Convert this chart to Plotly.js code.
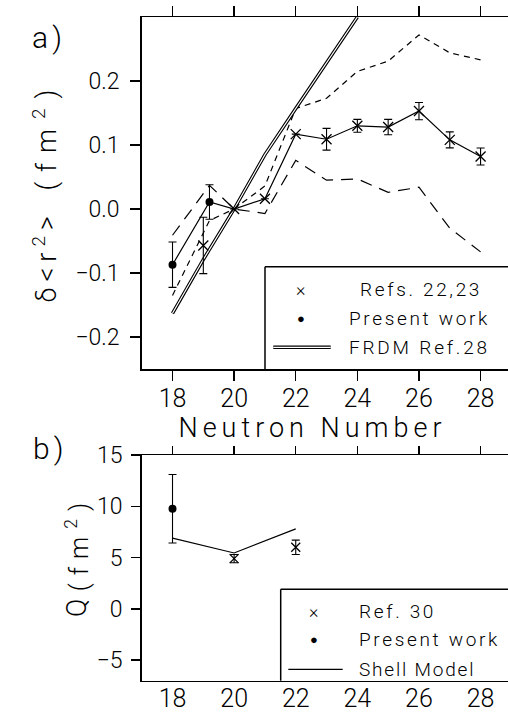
<!DOCTYPE html>
<html><head><meta charset="utf-8">
<script src="https://cdn.plot.ly/plotly-3.0.1.min.js"></script>
<style>
html,body{margin:0;padding:0;background:#fff;}
#chart{width:508px;height:712px;}
.annotation-text{letter-spacing:0.14em;}
g.annotation[data-index="2"] text{letter-spacing:5px;}
g.annotation[data-index="3"] text{letter-spacing:10px;}
g.annotation[data-index="4"] text{letter-spacing:6px;}
g.annotation[data-index="5"] text{letter-spacing:8px;}
g.annotation[data-index="11"] text{letter-spacing:2.8px;}
g.annotation[data-index="16"] text{letter-spacing:1.8px;}
</style>
</head><body><div id="chart"></div>
<script>
// ---------- panel a : delta <r^2> ----------
const refsN    = [19, 20, 21, 22, 23, 24, 25, 26, 27, 28];
const refsDr2  = [-0.057, 0, 0.016, 0.117, 0.109, 0.130, 0.128, 0.153, 0.108, 0.082];
const refsErr  = [0.044, null, null, null, 0.017, 0.010, 0.012, 0.0135, 0.0125, 0.0133];
const presentN   = [18, 19.2];
const presentDr2 = [-0.087, 0.011];
const presentErr = [0.0355, 0.027];
const bandN     = [18, 19.2, 20, 21, 22, 23, 24, 25, 26, 27, 28];
const bandLong  = [-0.041, 0.037, 0, -0.007, 0.076, 0.045, 0.047, 0.026, 0.034, -0.030, -0.067];
const bandShort = [-0.135, -0.018, 0, 0.036, 0.157, 0.173, 0.215, 0.231, 0.272, 0.244, 0.233];
const frdmN   = [18, 19, 20, 21, 22, 23, 24];
const frdmDr2 = [-0.163, -0.079, 0, 0.085, 0.157, 0.229, 0.300];
// ---------- panel b : Q ----------
const qRefN = [20, 22];
const qRef = [4.9, 6.0];
const qRefErr = [0.4, 0.7];
const qPresentN = [18];
const qPresent = [9.76];
const qPresentErr = [3.34];
const shellN = [18, 20, 22];
const shellQ = [6.9, 5.45, 7.8];
// ---------- ticks ----------
const xTicks = [18, 20, 22, 24, 26, 28];
const yTicksA = [-0.2, -0.1, 0.0, 0.1, 0.2];
const yTicksB = [-5, 0, 5, 10, 15];

// solid line through present work then references from N=20 on
const lineN = presentN.concat(refsN.filter(n => n >= 20));
const lineV = presentDr2.concat(refsDr2.filter((v, i) => refsN[i] >= 20));

const W = 508, H = 712;
const px = v => v / W;
const py = v => 1 - v / H;
const K = 'black';
const FONT = 'Roboto, DejaVu Sans, sans-serif';

const traces = [
  {x: bandN, y: bandLong, mode: 'lines', line: {color: K, width: 1.2, dash: '12px,8px'}, xaxis: 'x', yaxis: 'y', hoverinfo: 'skip'},
  {x: bandN, y: bandShort, mode: 'lines', line: {color: K, width: 1.2, dash: '6px,5px'}, xaxis: 'x', yaxis: 'y', hoverinfo: 'skip'},
  {x: frdmN, y: frdmDr2, mode: 'lines', line: {color: K, width: 3.4}, xaxis: 'x', yaxis: 'y'},
  {x: frdmN, y: frdmDr2, mode: 'lines', line: {color: 'white', width: 1.2}, xaxis: 'x', yaxis: 'y', hoverinfo: 'skip'},
  {x: lineN, y: lineV, mode: 'lines', line: {color: K, width: 1.2}, xaxis: 'x', yaxis: 'y', hoverinfo: 'skip'},
  {x: refsN, y: refsDr2, mode: 'markers', marker: {symbol: 'x-thin-open', size: 10, color: K, line: {color: K, width: 1.3}},
   error_y: {type: 'data', array: refsErr, color: K, thickness: 1.1, width: 4}, xaxis: 'x', yaxis: 'y'},
  {x: presentN, y: presentDr2, mode: 'markers', marker: {symbol: 'circle', size: 8, color: K},
   error_y: {type: 'data', array: presentErr, color: K, thickness: 1.1, width: 4}, xaxis: 'x', yaxis: 'y'},
  // panel b
  {x: shellN, y: shellQ, mode: 'lines', line: {color: K, width: 1.2}, xaxis: 'x3', yaxis: 'y2'},
  {x: qRefN, y: qRef, mode: 'markers', marker: {symbol: 'x-thin-open', size: 9, color: K, line: {color: K, width: 1.3}},
   error_y: {type: 'data', array: qRefErr, color: K, thickness: 1.1, width: 4}, xaxis: 'x2', yaxis: 'y2'},
  {x: qPresentN, y: qPresent, mode: 'markers', marker: {symbol: 'circle', size: 8, color: K},
   error_y: {type: 'data', array: qPresentErr, color: K, thickness: 1.1, width: 4}, xaxis: 'x2', yaxis: 'y2'}
];

const xRange = [17, 28.89];
const baseAx = {showgrid: false, zeroline: false, showline: true, linecolor: K, linewidth: 1.5,
  tickcolor: K, tickwidth: 1.5, automargin: false, fixedrange: true};
const tf = s => ({size: s, family: FONT, weight: 300, color: K});

const layout = {
  width: W, height: H, margin: {l: 0, r: 0, t: 0, b: 0},
  paper_bgcolor: 'white', plot_bgcolor: 'white', showlegend: false,
  font: {family: FONT, weight: 300, color: K},
  xaxis: Object.assign({}, baseAx, {domain: [px(141.7), 1], range: xRange, anchor: 'y',
    tickmode: 'array', tickvals: xTicks, ticks: 'outside', ticklen: 10, mirror: 'ticks',
    tickfont: tf(25), ticklabelstandoff: -4}),
  yaxis: Object.assign({}, baseAx, {domain: [py(369), py(17)], range: [-0.25, 0.3], anchor: 'x',
    tickmode: 'array', tickvals: yTicksA, tickformat: '.1f', ticks: 'outside', ticklen: 10,
    tickfont: tf(23), ticklabelstandoff: 6}),
  xaxis2: Object.assign({}, baseAx, {domain: [px(141.7), 1], range: xRange, anchor: 'y2',
    tickmode: 'array', tickvals: xTicks, ticks: '', mirror: true, tickfont: tf(25), ticklabelstandoff: -5}),
  xaxis3: Object.assign({}, baseAx, {overlaying: 'x2', side: 'top', anchor: 'y2', range: xRange,
    tickmode: 'array', tickvals: xTicks, ticks: 'outside', ticklen: 8, showticklabels: false, showline: false}),
  yaxis2: Object.assign({}, baseAx, {domain: [py(680.7), py(455)], range: [-7, 15], anchor: 'x2',
    tickmode: 'array', tickvals: yTicksB, ticks: 'outside', ticklen: 9, tickfont: tf(23), ticklabelstandoff: 4}),
  shapes: [
    // legend a box
    {type: 'line', xref: 'paper', yref: 'paper', x0: px(265), x1: px(265), y0: py(369), y1: py(266.7), line: {color: K, width: 1.5}},
    {type: 'line', xref: 'paper', yref: 'paper', x0: px(265), x1: px(510), y0: py(266.7), y1: py(266.7), line: {color: K, width: 1.5}},
    {type: 'line', xref: 'paper', yref: 'paper', x0: px(273.3), x1: px(330.7), y0: py(347.3), y1: py(347.3), line: {color: K, width: 3.4}},
    {type: 'line', xref: 'paper', yref: 'paper', x0: px(273.3), x1: px(330.7), y0: py(347.3), y1: py(347.3), line: {color: 'white', width: 1.2}},
    // legend b box
    {type: 'line', xref: 'paper', yref: 'paper', x0: px(280.7), x1: px(280.7), y0: py(680.7), y1: py(589.3), line: {color: K, width: 1.5}},
    {type: 'line', xref: 'paper', yref: 'paper', x0: px(280.7), x1: px(510), y0: py(589.3), y1: py(589.3), line: {color: K, width: 1.5}},
    {type: 'line', xref: 'paper', yref: 'paper', x0: px(288.3), x1: px(342.7), y0: py(669.3), y1: py(669.3), line: {color: K, width: 1.2}}
  ],
  annotations: []
};

function ann(text, x, y, size, opts) {
  layout.annotations.push(Object.assign({text: text, xref: 'paper', yref: 'paper', x: px(x), y: py(y),
    showarrow: false, xanchor: 'center', yanchor: 'middle', font: tf(size)}, opts || {}));
}
const L = {xanchor: 'left', align: 'left'};
ann('a)', 49, 38, 30);                                       // 0
ann('b)', 50, 448, 30);                                      // 1
ann('Neutron Number', 312, 428, 27, {borderpad: 0});         // 2
ann('(fm<sup>2</sup>)', 45, 135, 27, {textangle: -90});      // 3
ann('δ&lt;r<sup>2</sup>&gt;', 45, 257, 27, {textangle: -90}); // 4
ann('(fm<sup>2</sup>)', 77, 543, 25, {textangle: -90});      // 5
ann('Q', 77, 606, 27, {textangle: -90});                     // 6
// legend a
ann('×', 301.7, 289.3, 18);                                  // 7
ann('Refs. 22,23', 358.3, 289.3, 19, L);                     // 8
ann('●', 301.7, 318.3, 13);                                  // 9
ann('Present work', 346.7, 318.3, 19, L);                    // 10
ann('FRDM Ref.28', 346.7, 347.3, 19, L);                     // 11
// legend b
ann('×', 315, 611, 18);                                      // 12
ann('Ref. 30', 356.7, 611, 19, L);                           // 13
ann('●', 315, 639.3, 13);                                    // 14
ann('Present work', 356.7, 639.3, 19, L);                    // 15
ann('Shell Model', 356.7, 669.3, 19, L);                     // 16

Plotly.newPlot('chart', traces, layout, {staticPlot: true, displayModeBar: false});
</script>
</body></html>
